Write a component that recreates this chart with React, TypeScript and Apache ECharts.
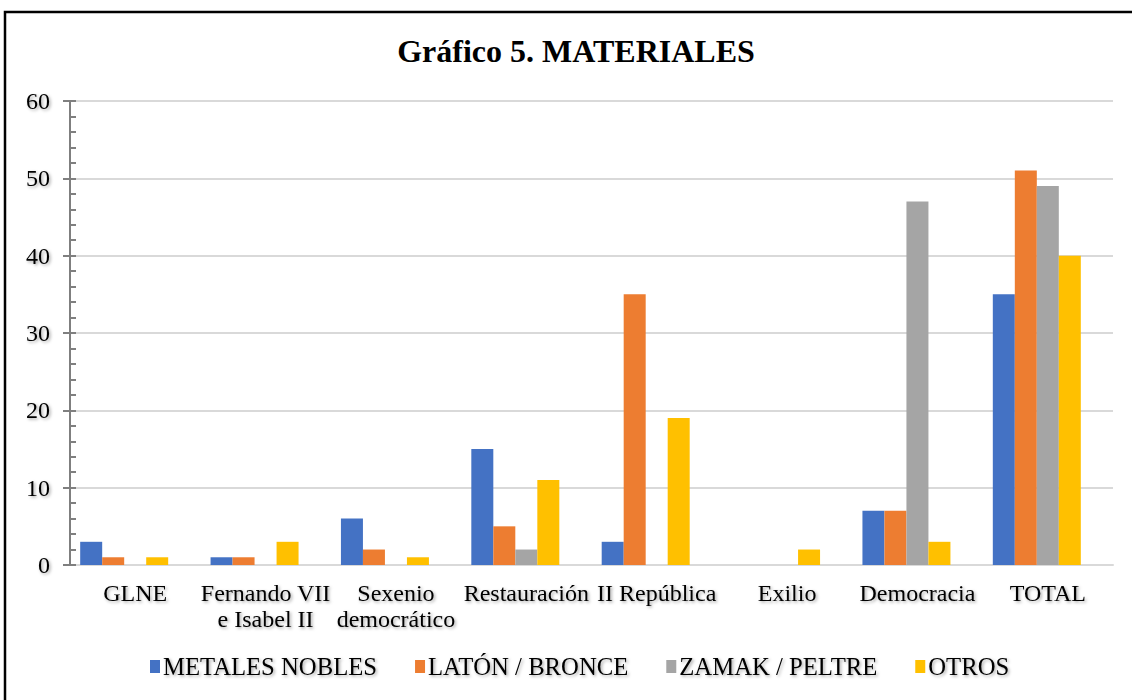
import React, { useEffect, useRef } from "react";
import * as echarts from "echarts";

const categories = [
  "GLNE",
  "Fernando VII\ne Isabel II",
  "Sexenio\ndemocrático",
  "Restauración",
  "II República",
  "Exilio",
  "Democracia",
  "TOTAL",
];
const seriesNames = ["METALES NOBLES", "LATÓN / BRONCE", "ZAMAK / PELTRE", "OTROS"];
const metalesNobles = [3, 1, 6, 15, 3, 0, 7, 35];
const latonBronce = [1, 1, 2, 5, 35, 0, 7, 51];
const zamakPeltre = [0, 0, 0, 2, 0, 0, 47, 49];
const otros = [1, 3, 1, 11, 19, 2, 3, 40];
const emptySeries = [null, null, null, null, null, null, null, null];
const colors = ["#4472C4", "#ED7D31", "#A5A5A5", "#FFC000"];
const title = "Gráfico 5. MATERIALES";

const FONT = "'Liberation Serif', 'Times New Roman', serif";
const shadow = {
  textShadowColor: "rgba(0,0,0,0.35)",
  textShadowBlur: 3,
  textShadowOffsetX: 1.5,
  textShadowOffsetY: 1.5,
};

export default function App() {
  const ref = useRef<HTMLDivElement>(null);
  useEffect(() => {
    document.body.style.margin = "0";
    const chart = echarts.init(ref.current!, undefined, { renderer: "svg" });
    const values = [metalesNobles, latonBronce, zamakPeltre, otros];
    const series: any[] = values.map((d, i) => ({
      name: seriesNames[i],
      type: "bar",
      data: d,
      barWidth: 22,
      barGap: "0%",
      itemStyle: { color: colors[i] },
    }));
    series.push({
      name: "_empty",
      type: "bar",
      data: emptySeries,
      barWidth: 22,
      barGap: "0%",
    });
    chart.setOption({
      animation: false,
      backgroundColor: "#fff",
      graphic: [
        {
          type: "rect",
          shape: { x: 5, y: 12, width: 1140, height: 700 },
          style: { fill: "none", stroke: "#000", lineWidth: 2.5 },
          silent: true,
        },
        {
          type: "text",
          x: 576,
          y: 51,
          style: {
            text: title,
            fontFamily: FONT,
            fontWeight: "bold",
            fontSize: 32,
            fill: "#000",
            align: "center",
            verticalAlign: "middle",
            shadowColor: "rgba(0,0,0,0.35)",
            shadowBlur: 3,
            shadowOffsetX: 1.5,
            shadowOffsetY: 1.5,
          },
        },
      ],
      legend: {
        data: seriesNames,
        bottom: 16,
        left: 145,
        icon: "rect",
        itemWidth: 10,
        itemHeight: 13,
        itemGap: 38,
        textStyle: { fontFamily: FONT, fontSize: 24.7, color: "#000", padding: [0, 0, 0, -2], ...shadow },
      },
      grid: { left: 70, right: 19, top: 101, bottom: 135, containLabel: false },
      xAxis: {
        type: "category",
        data: categories,
        axisLine: { show: true, lineStyle: { color: "#D9D9D9", width: 2 } },
        axisTick: { show: false },
        axisLabel: {
          interval: 0,
          fontFamily: FONT,
          fontSize: 24,
          color: "#000",
          lineHeight: 26,
          margin: 15,
          ...shadow,
        },
      },
      yAxis: [
        {
          type: "value",
          min: 0,
          max: 60,
          interval: 10,
          axisLine: { show: true, lineStyle: { color: "#7F7F7F", width: 2 } },
          axisTick: { show: true, length: 7, lineStyle: { color: "#7F7F7F", width: 2 } },
          axisLabel: { fontFamily: FONT, fontSize: 24, color: "#000", margin: 20, ...shadow },
          splitLine: { show: true, lineStyle: { color: "#D9D9D9", width: 2 } },
        },
        {
          type: "value",
          min: 0,
          max: 60,
          interval: 10,
          position: "left",
          axisLine: { show: false },
          axisTick: { show: true, inside: true, length: 6, lineStyle: { color: "#7F7F7F", width: 2 } },
          minorTick: { show: true, splitNumber: 5, length: 6, lineStyle: { color: "#7F7F7F", width: 2 } },
          axisLabel: { show: false },
          splitLine: { show: false },
        },
      ],
      series,
    });
    return () => chart.dispose();
  }, []);
  return <div ref={ref} style={{ width: 1132, height: 700 }} />;
}
